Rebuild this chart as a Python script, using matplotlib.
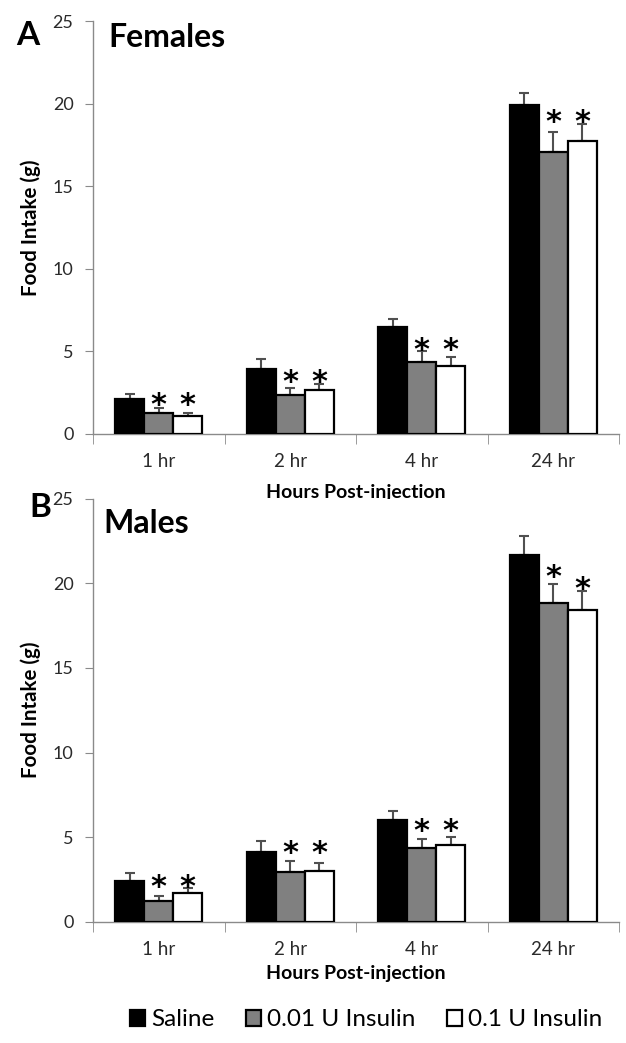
import matplotlib
matplotlib.use('Agg')
import matplotlib.pyplot as plt
import numpy as np

plt.rcParams['font.family'] = ['Lato', 'DejaVu Sans']

# ---------------- data ----------------
timepoints = ['1 hr', '2 hr', '4 hr', '24 hr']
groups = ['Saline', '0.01 U Insulin', '0.1 U Insulin']
group_colors = ['#000000', '#808080', '#ffffff']

fem_saline = [2.1, 3.9, 6.45, 19.9]
fem_saline_sem = [0.28, 0.6, 0.47, 0.75]
fem_low = [1.25, 2.32, 4.35, 17.05]
fem_low_sem = [0.32, 0.45, 0.67, 1.25]
fem_high = [1.05, 2.63, 4.12, 17.75]
fem_high_sem = [0.2, 0.34, 0.53, 1.0]
fem_star_low = [2.22, 3.6, 5.56, 19.4]
fem_star_high = [2.22, 3.6, 5.56, 19.4]

male_saline = [2.4, 4.14, 6.03, 21.65]
male_saline_sem = [0.5, 0.63, 0.51, 1.15]
male_low = [1.2, 2.92, 4.33, 18.85]
male_low_sem = [0.3, 0.65, 0.57, 1.12]
male_high = [1.7, 3.0, 4.53, 18.4]
male_high_sem = [0.3, 0.47, 0.47, 1.12]
male_star_low = [2.54, 4.57, 5.87, 20.9]
male_star_high = [2.54, 4.57, 5.87, 20.17]

# ---------------- figure ----------------
W, H = 626, 1043
fig = plt.figure(figsize=(W / 100, H / 100), dpi=100)

ax_top = fig.add_axes([93 / W, 1 - 433.5 / H, 526 / W, 412.5 / H])
ax_bot = fig.add_axes([93 / W, 1 - 921.7 / H, 526 / W, 422.9 / H])

bar_w = 0.22
spine_col = '#8a8a8a'
tick_col = '#2a2a2a'
err_col = '#505050'


def draw_panel(ax, means, sems, stars, xlabel_y):
    x = np.arange(len(timepoints))
    offsets = [-bar_w, 0, bar_w]
    for i, (m, s, c, off) in enumerate(zip(means, sems, group_colors, offsets)):
        ax.bar(x + off, m, width=bar_w, color=c, edgecolor='black',
               linewidth=1.6, zorder=3, label=groups[i])
        ax.errorbar(x + off, m, yerr=[np.zeros(len(s)), s], fmt='none',
                    ecolor=err_col, elinewidth=1.5, capsize=3.6,
                    capthick=1.5, zorder=2)
        if stars[i] is not None:
            for xi, sy in zip(x + off, stars[i]):
                ax.annotate('*', (xi, sy), xytext=(0, -12.5),
                            textcoords='offset points', ha='center',
                            va='baseline', fontsize=22, fontweight='bold',
                            color='black', family=['DejaVu Sans'])
    ax.set_xlim(-0.5, len(timepoints) - 0.5)
    ax.set_ylim(0, 25)
    ax.set_yticks(np.arange(0, 26, 5))
    ax.set_xticks(x)
    ax.set_xticklabels(timepoints)
    ax.set_xticks(np.arange(-0.5, len(timepoints), 1), minor=True)
    ax.tick_params(axis='x', which='major', length=0, pad=14,
                   labelsize=13.5, labelcolor=tick_col)
    ax.tick_params(axis='x', which='minor', length=7, color=spine_col,
                   direction='out')
    ax.tick_params(axis='y', length=6, color=spine_col, pad=8,
                   labelsize=13, labelcolor=tick_col, direction='out')
    for sp in ['top', 'right']:
        ax.spines[sp].set_visible(False)
    for sp in ['left', 'bottom']:
        ax.spines[sp].set_color(spine_col)
        ax.spines[sp].set_linewidth(1.0)
    ax.set_ylabel('Food Intake (g)', fontsize=14.8, fontweight='bold')
    ax.yaxis.set_label_coords(-0.118, 0.5)
    ax.yaxis.label.set_va('center')
    ax.set_xlabel('Hours Post-injection', fontsize=14, fontweight='bold')
    ax.xaxis.label.set_va('center')
    ax.xaxis.set_label_coords(0.5, xlabel_y)


draw_panel(ax_top, [fem_saline, fem_low, fem_high],
           [fem_saline_sem, fem_low_sem, fem_high_sem],
           [None, fem_star_low, fem_star_high], -58.5 / 412.5)
draw_panel(ax_bot, [male_saline, male_low, male_high],
           [male_saline_sem, male_low_sem, male_high_sem],
           [None, male_star_low, male_star_high], -51.5 / 422.9)

# panel letters and titles
fig.text(16 / W, 1 - 45 / H, 'A', fontsize=24, fontweight='bold', va='baseline')
fig.text(108 / W, 1 - 47 / H, 'Females', fontsize=23, fontweight='bold', va='baseline')
fig.text(29 / W, 1 - 517 / H, 'B', fontsize=24, fontweight='bold', va='baseline')
fig.text(103 / W, 1 - 533 / H, 'Males', fontsize=23, fontweight='bold', va='baseline')

handles, labels = ax_bot.get_legend_handles_labels()
fig.legend(handles, labels, loc='center', bbox_to_anchor=(366 / W, 1 - 1020 / H),
           ncol=3, frameon=False, fontsize=17.5, handlelength=0.62,
           handleheight=0.62, handletextpad=0.25, columnspacing=1.3,
           borderpad=0, borderaxespad=0)

fig.savefig('out.png', dpi=100)
